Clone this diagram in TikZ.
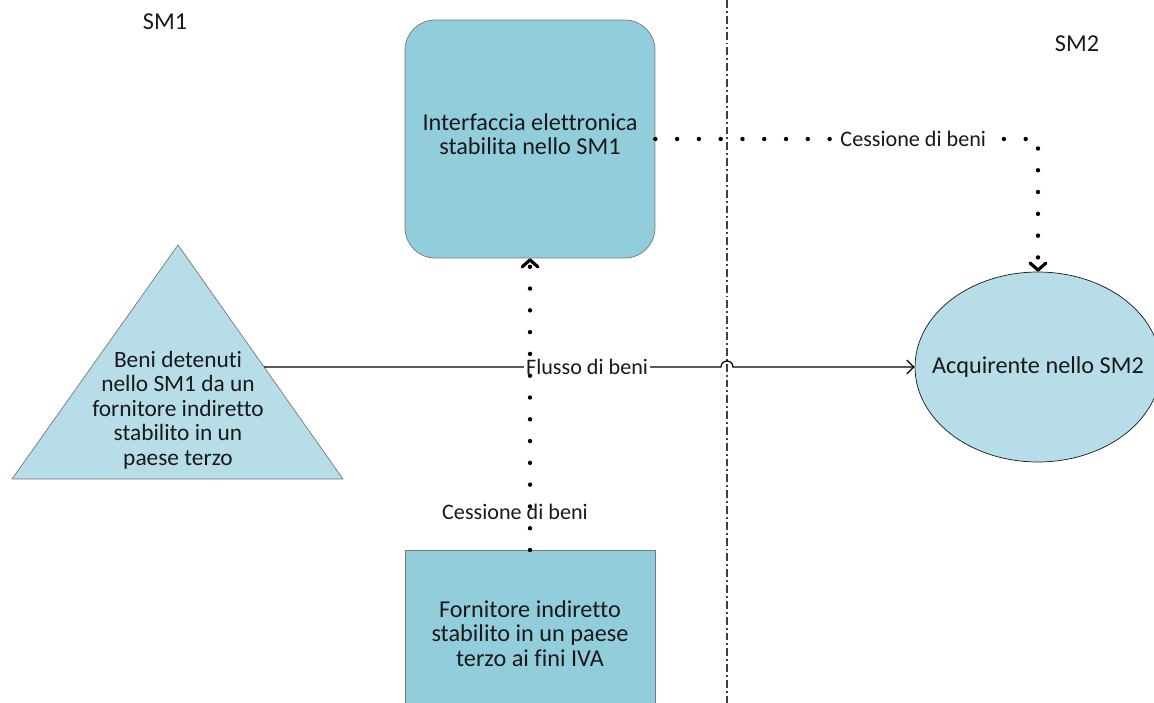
\documentclass[tikz,border=0pt]{standalone}
\usepackage{fontspec}
\setmainfont[Ligatures=NoCommon]{Carlito}
\usetikzlibrary{shapes.geometric,arrows.meta,positioning}
\definecolor{boxblue}{RGB}{146,205,220}
\definecolor{paleblue}{RGB}{183,221,232}
\definecolor{edgegray}{RGB}{120,120,120}
\definecolor{inkgray}{RGB}{25,25,25}

\begin{document}
\begin{tikzpicture}[x=0.02cm, y=-0.02cm,
    font=\fontsize{13.8}{13.9}\selectfont, text=inkgray,
    box/.style={draw=edgegray, fill=boxblue, minimum width=5cm, align=center, inner sep=0pt},
    lbl/.style={inner sep=1pt, font=\fontsize{12.6}{13}\selectfont},
    dotline/.style={line width=2.5pt, line cap=round, dash pattern=on 0pt off 12.4pt},
    dottip/.style={-{Straight Barb[length=4pt, width=9pt, line width=1.8pt, round]}},
    flow/.style={line width=0.7pt, -{Straight Barb[length=4pt, width=8pt]}},
    border/.style={line width=0.6pt, draw=black!75, dash pattern=on 4.5pt off 1.7pt on 1.1pt off 1.7pt}]
    \useasboundingbox (0,0) rectangle (1154,703);
    \draw[border] (727,0) -- (727,703);
    \node (sm1) at (165,22) {SM1};
    \node (sm2) at (1077,44) {SM2};
    \node[box, rounded corners=0.6cm, minimum height=4.76cm,
        label={[align=center, yshift=0.1cm]center:Interfaccia elettronica\\stabilita nello SM1}] (iface) at (530,139) {};
    \node[box, minimum height=4cm, anchor=north,
        label={[align=center, yshift=0.34cm]center:Fornitore indiretto\\stabilito in un paese\\terzo ai fini IVA}] (forn) at (530,550) {};
    \draw[edgegray, fill=paleblue] (178,245) -- (343,479) -- (12,479) -- cycle;
    \node[align=center, font=\fontsize{13.3}{13.9}\selectfont] (beni) at (178,410) {Beni detenuti\\nello SM1 da un\\fornitore indiretto\\stabilito in un\\paese terzo};
    \node[ellipse, draw=inkgray, fill=paleblue, minimum width=4.92cm, minimum height=3.8cm, inner sep=0pt,
        label={center:Acquirente nello SM2}] (acq) at (1038,367) {};
    \coordinate (trir) at (264,367);
    \coordinate (hop) at (721,367);
    \draw[flow] (trir) -- node[lbl, fill=white, pos=0.707] {Flusso di beni} (hop) arc[start angle=180, end angle=360, radius=6] -- (acq);
    \draw[dotline, dottip] (forn) -- node[lbl, pos=0.13, xshift=-0.3cm] {Cessione di beni} (iface);
    \draw[dotline, dottip] (iface) -| node[lbl, fill=white, pos=0.337] {Cessione di beni} (acq);
\end{tikzpicture}
\end{document}
